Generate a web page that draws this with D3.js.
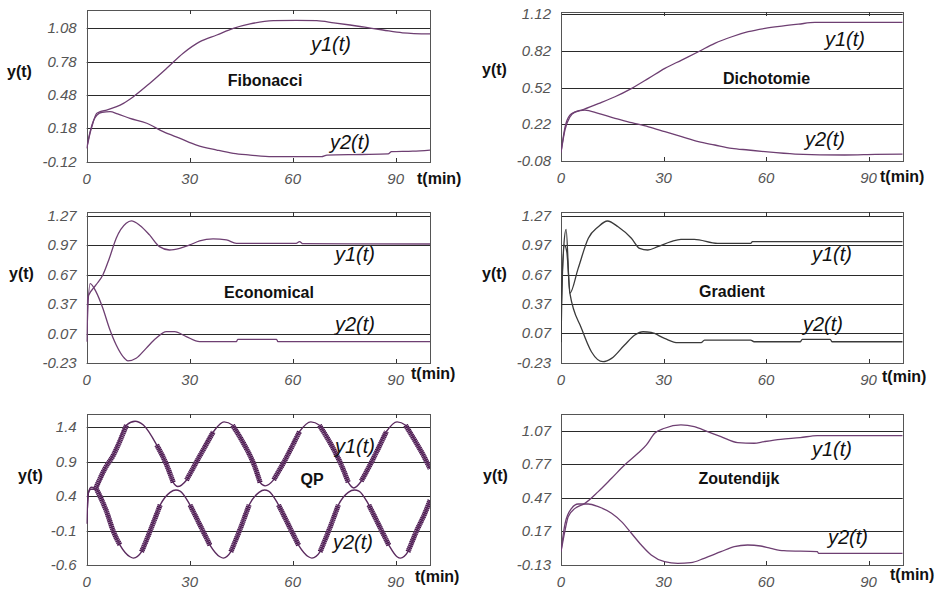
<!DOCTYPE html>
<html>
<head>
<meta charset="utf-8">
<script src="https://cdn.jsdelivr.net/npm/d3@7"></script>
<style>
  html, body { margin: 0; padding: 0; background: #fff; }
  svg { display: block; }
  text { font-family: "Liberation Sans", Arial, sans-serif; }
</style>
</head>
<body>
<svg id="chart" width="935" height="590"></svg>
<script>
// ---------------- DATA ----------------
const xTicks = [0, 30, 60, 90];
const xTickLabels = ["0", "30", "60", "90"];

const titles = ["Fibonacci", "Dichotomie", "Economical", "Gradient", "QP", "Zoutendijk"];

const fibTicks = [-0.12, 0.18, 0.48, 0.78, 1.08];
const fibTickLabels = ["-0.12", "0.18", "0.48", "0.78", "1.08"];
const dicTicks = [-0.08, 0.22, 0.52, 0.82, 1.12];
const dicTickLabels = ["-0.08", "0.22", "0.52", "0.82", "1.12"];
const ecoTicks = [-0.23, 0.07, 0.37, 0.67, 0.97, 1.27];
const ecoTickLabels = ["-0.23", "0.07", "0.37", "0.67", "0.97", "1.27"];
const graTicks = [-0.23, 0.07, 0.37, 0.67, 0.97, 1.27];
const graTickLabels = ["-0.23", "0.07", "0.37", "0.67", "0.97", "1.27"];
const qpTicks = [-0.6, -0.1, 0.4, 0.9, 1.4];
const qpTickLabels = ["-0.6", "-0.1", "0.4", "0.9", "1.4"];
const zouTicks = [-0.13, 0.17, 0.47, 0.77, 1.07];
const zouTickLabels = ["-0.13", "0.17", "0.47", "0.77", "1.07"];

// Fibonacci
const fibT1 = [0, 0.5, 1, 1.5, 2.9, 3.9, 5.8, 8.7, 10.7, 13.6, 18.4, 23.3, 28.1, 33, 37.9, 42.7, 47.6, 54.4, 61, 67, 72, 76.7, 81, 86.3, 92, 100];
const fibY1 = [0.0, 0.07, 0.14, 0.195, 0.315, 0.33, 0.345, 0.375, 0.405, 0.465, 0.586, 0.72, 0.856, 0.96, 1.02, 1.08, 1.12, 1.149, 1.152, 1.149, 1.13, 1.11, 1.09, 1.065, 1.04, 1.03];
const fibT2 = [0, 0.5, 1, 2, 3, 4.5, 6.8, 9, 12.6, 17.5, 22.3, 27.2, 32, 37.9, 42.7, 47.6, 54, 68.4, 70, 80, 87.8, 88.8, 95, 100];
const fibY2 = [0.0, 0.08, 0.15, 0.25, 0.30, 0.325, 0.33, 0.31, 0.27, 0.226, 0.15, 0.09, 0.03, -0.015, -0.045, -0.06, -0.075, -0.075, -0.06, -0.055, -0.05, -0.03, -0.025, -0.015];

// Dichotomie
const dicT1 = [0, 1.2, 2.6, 4, 6, 10.9, 15.8, 20.7, 25.6, 30.4, 35.3, 40.2, 45, 50, 54.8, 59.7, 64.6, 69.5, 74.3, 100];
const dicY1 = [-0.01, 0.2, 0.296, 0.32, 0.337, 0.39, 0.446, 0.515, 0.596, 0.678, 0.746, 0.814, 0.883, 0.937, 0.978, 1.005, 1.024, 1.04, 1.054, 1.054];
const dicT2 = [0, 1.2, 2.6, 4.1, 7, 10.9, 15.8, 20.7, 25.6, 30.4, 35.3, 40.2, 45, 50, 54.8, 59.7, 68.5, 83, 92, 100];
const dicY2 = [-0.01, 0.18, 0.28, 0.32, 0.337, 0.31, 0.269, 0.234, 0.2, 0.16, 0.119, 0.078, 0.051, 0.024, 0.01, -0.004, -0.023, -0.031, -0.026, -0.023];

// Economical
const ecoT1 = [0, 0.3, 0.6, 2.7, 4.7, 6.6, 8.6, 11.5, 13, 15.5, 18.3, 21.2, 24.1, 27.1, 30, 32.9, 36.8, 40.7, 43.6, 61, 62, 63, 100];
const ecoY1 = [-0.01, 0.44, 0.464, 0.566, 0.667, 0.837, 1.04, 1.192, 1.216, 1.17, 1.074, 0.955, 0.921, 0.938, 0.972, 1.013, 1.033, 1.023, 0.989, 0.989, 1.006, 0.985, 0.982];
const ecoT2 = [0, 0.2, 1.0, 2.7, 4.7, 6.6, 8.6, 11, 12, 14.4, 17.3, 20.2, 23.2, 25.6, 29, 32.9, 43.6, 44, 55.3, 55.7, 100];
const ecoY2 = [-0.01, 0.2, 0.58, 0.498, 0.329, 0.126, -0.044, -0.179, -0.206, -0.179, -0.078, 0.024, 0.092, 0.092, 0.041, -0.01, -0.01, 0.014, 0.014, -0.01, -0.01];

// Gradient
const graT1 = [0, 0.1, 0.8, 1.5, 2.6, 5, 8, 10.9, 13.6, 16.7, 20.6, 23, 25.4, 28.3, 32.2, 35.1, 39, 45.8, 55.5, 56, 100];
const graY1 = [-0.02, 0.36, 0.95, 1.13, 0.48, 0.73, 1.04, 1.157, 1.216, 1.157, 1.04, 0.937, 0.92, 0.954, 1.005, 1.029, 1.029, 0.988, 0.988, 1.005, 1.005];
const graT2 = [0, 0.2, 1.0, 1.7, 2.6, 6, 8.9, 12.3, 14.8, 18.6, 21.6, 24, 26.4, 30.3, 34.2, 41, 42, 55.5, 56.5, 70, 70.6, 78.8, 79.3, 100];
const graY2 = [-0.02, 0.36, 0.97, 0.9, 0.48, 0.12, -0.118, -0.22, -0.186, -0.05, 0.052, 0.086, 0.079, 0.018, -0.026, -0.026, 0.001, 0.001, -0.016, -0.016, 0.008, 0.008, -0.016, -0.016];

// QP
const qpT1 = [0, 0.5, 1.2, 2.5, 5.3, 7.8, 11.6, 14.1, 16.5, 20.4, 23.3, 25.2, 26.5, 29.1, 32, 36.9, 40, 42.5, 46, 48.8, 50.5, 52, 54.5, 57.5, 62, 65.3, 67.8, 71.3, 74.2, 76.2, 77.8, 80, 83, 87.3, 90.4, 92.9, 96.4, 98, 100];
const qpY1 = [0.0, 0.45, 0.5, 0.5, 0.8, 1.0, 1.435, 1.49, 1.435, 1.144, 0.853, 0.6, 0.54, 0.635, 0.9, 1.337, 1.48, 1.43, 1.14, 0.85, 0.6, 0.55, 0.64, 0.9, 1.34, 1.48, 1.43, 1.14, 0.85, 0.6, 0.52, 0.62, 0.9, 1.34, 1.48, 1.43, 1.14, 1.0, 0.8];
const qpT2 = [0, 0.5, 1.3, 2.9, 5.8, 7.8, 9.7, 12.6, 13.6, 16, 18.4, 21.4, 24.3, 26, 27.2, 30.1, 33, 35.9, 38.8, 39.8, 42, 44.4, 47.3, 50.2, 51.8, 53, 55.9, 58.8, 61.7, 64.6, 65.6, 68, 70.4, 73.3, 76.2, 78, 79.3, 82.2, 85.1, 88, 90.4, 91.4, 93.6, 96, 98.5, 100];
const qpY2 = [0.0, 0.45, 0.53, 0.5, 0.175, -0.116, -0.31, -0.48, -0.5, -0.407, -0.116, 0.272, 0.456, 0.49, 0.475, 0.272, -0.019, -0.31, -0.48, -0.5, -0.407, -0.116, 0.272, 0.456, 0.49, 0.475, 0.272, -0.019, -0.31, -0.48, -0.5, -0.407, -0.116, 0.272, 0.456, 0.49, 0.475, 0.272, -0.019, -0.31, -0.48, -0.5, -0.407, -0.116, 0.15, 0.34];

// Zoutendijk
const zouT1 = [0, 1.2, 2.1, 4.1, 7, 10.9, 14.8, 18.6, 22.5, 25, 27.4, 30.3, 35.1, 39, 42.9, 46.8, 51.7, 56.5, 59.4, 64.3, 70, 75, 100];
const zouY1 = [-0.01, 0.183, 0.303, 0.377, 0.422, 0.527, 0.646, 0.765, 0.87, 0.945, 1.049, 1.094, 1.124, 1.109, 1.064, 1.019, 0.965, 0.96, 0.974, 0.995, 1.01, 1.028, 1.028];
const zouT2 = [0, 1.2, 3.1, 5, 8, 10.9, 14.8, 17.7, 20.6, 23.5, 26.4, 30.3, 34.2, 38, 41.9, 46.8, 50.7, 54.6, 58.4, 61.4, 65.2, 75, 75.4, 100];
const zouY2 = [-0.01, 0.243, 0.377, 0.416, 0.416, 0.392, 0.333, 0.258, 0.154, 0.049, -0.04, -0.1, -0.115, -0.109, -0.07, -0.011, 0.034, 0.049, 0.04, 0.019, -0.002, -0.011, -0.026, -0.026];

// ---------------- LAYOUT ----------------
const panels = [
  { title: titles[0], ticks: fibTicks, tickLabels: fibTickLabels, dom: [-0.12, 1.245],
    box: { l: 86.7, r: 430, t: 10, b: 161.7 },
    s1: [fibT1, fibY1], s2: [fibT2, fibY2], color: "#6e3f72",
    yl: [7, 77], ttl: [265, 86], l1: [311, 51], l2: [330, 149], tm: [417, 184] },
  { title: titles[1], ticks: dicTicks, tickLabels: dicTickLabels, dom: [-0.08, 1.142],
    box: { l: 561, r: 902.7, t: 11.7, b: 161 },
    s1: [dicT1, dicY1], s2: [dicT2, dicY2], color: "#6e3f72",
    yl: [482, 75], ttl: [766.5, 84], l1: [825, 46], l2: [805, 146], tm: [880, 182] },
  { title: titles[2], ticks: ecoTicks, tickLabels: ecoTickLabels, dom: [-0.23, 1.31],
    box: { l: 86.7, r: 430, t: 211.7, b: 363.3 },
    s1: [ecoT1, ecoY1], s2: [ecoT2, ecoY2], color: "#6e3f72",
    yl: [9, 279], ttl: [269, 298], l1: [335, 261], l2: [335, 331], tm: [411, 379] },
  { title: titles[3], ticks: graTicks, tickLabels: graTickLabels, dom: [-0.23, 1.311],
    box: { l: 561, r: 902.7, t: 211.7, b: 362.7 },
    s1: [graT1, graY1], s2: [graT2, graY2], color: "#3a3a3a",
    yl: [482, 279], ttl: [732, 297], l1: [812, 261], l2: [803, 331], tm: [882, 382] },
  { title: titles[4], ticks: qpTicks, tickLabels: qpTickLabels, dom: [-0.6, 1.59],
    box: { l: 86.7, r: 430, t: 414.3, b: 565 },
    s1: [qpT1, qpY1], s2: [qpT2, qpY2], color: "#5a2a5e", ripple: true,
    yl: [18, 481], ttl: [312, 485], l1: [335, 453], l2: [333, 549], tm: [415, 582] },
  { title: titles[5], ticks: zouTicks, tickLabels: zouTickLabels, dom: [-0.13, 1.219],
    box: { l: 561, r: 902.7, t: 414.3, b: 565 },
    s1: [zouT1, zouY1], s2: [zouT2, zouY2], color: "#6e3f72",
    yl: [483, 481], ttl: [739, 484], l1: [812, 456], l2: [828, 544], tm: [890, 580] }
];

const svg = d3.select("#chart");

panels.forEach((p, pi) => {
  const g = svg.append("g");
  const x = d3.scaleLinear().domain([0, 100]).range([p.box.l, p.box.r]);
  const y = d3.scaleLinear().domain(p.dom).range([p.box.b, p.box.t]);

  // grid lines
  g.selectAll("line.grid").data(p.ticks).enter().append("line")
    .attr("x1", p.box.l).attr("x2", p.box.r)
    .attr("y1", d => Math.round(y(d)) + 0.5).attr("y2", d => Math.round(y(d)) + 0.5)
    .attr("stroke", "#2a2a2a").attr("stroke-width", 1);

  // frame
  g.append("rect")
    .attr("x", Math.round(p.box.l) + 0.5).attr("y", Math.round(p.box.t) + 0.5)
    .attr("width", Math.round(p.box.r) - Math.round(p.box.l))
    .attr("height", Math.round(p.box.b) - Math.round(p.box.t))
    .attr("fill", "none").attr("stroke", "#555").attr("stroke-width", 1);

  // inner ticks top/bottom
  const xt = xTicks.filter(d => d > 0);
  g.selectAll("line.xtb").data(xt).enter().append("line")
    .attr("x1", d => Math.round(x(d)) + 0.5).attr("x2", d => Math.round(x(d)) + 0.5)
    .attr("y1", Math.round(p.box.b)).attr("y2", Math.round(p.box.b) - 4)
    .attr("stroke", "#333");
  g.selectAll("line.xtt").data(xt).enter().append("line")
    .attr("x1", d => Math.round(x(d)) + 0.5).attr("x2", d => Math.round(x(d)) + 0.5)
    .attr("y1", Math.round(p.box.t)).attr("y2", Math.round(p.box.t) + 4)
    .attr("stroke", "#333");

  // y tick labels
  g.selectAll("text.yt").data(p.ticks).enter().append("text")
    .attr("x", p.box.l - 10).attr("y", d => y(d) + 5)
    .attr("text-anchor", "end")
    .attr("font-size", 15).attr("font-style", "italic").attr("fill", "#555")
    .text((d, i) => p.tickLabels[i]);

  // x tick labels
  g.selectAll("text.xt").data(xTicks).enter().append("text")
    .attr("x", d => x(d)).attr("y", p.box.b + 22)
    .attr("text-anchor", "middle")
    .attr("font-size", 15).attr("font-style", "italic").attr("fill", "#555")
    .text((d, i) => xTickLabels[i]);

  // axis titles
  g.append("text").attr("x", p.yl[0]).attr("y", p.yl[1])
    .attr("font-size", 16).attr("font-weight", "bold").attr("fill", "#111").text("y(t)");
  g.append("text").attr("x", p.tm[0]).attr("y", p.tm[1])
    .attr("font-size", 16).attr("font-weight", "bold").attr("fill", "#111").text("t(min)");

  // clip
  const clipId = "clip" + pi;
  svg.append("clipPath").attr("id", clipId).append("rect")
    .attr("x", p.box.l).attr("y", p.box.t - 2)
    .attr("width", p.box.r - p.box.l).attr("height", p.box.b - p.box.t + 4);

  const line = d3.line().x(d => x(d[0])).y(d => y(d[1])).curve(d3.curveMonotoneX);
  const plot = g.append("g").attr("clip-path", `url(#${clipId})`);

  [p.s1, p.s2].forEach(s => {
    const pts = s[0].map((t, i) => [t, s[1][i]]);
    if (p.ripple) {
      // heavier, hatched band on steep stretches (styling only)
      const steep = pts.map((d, i) => {
        const a = i > 0 ? Math.abs((d[1] - pts[i - 1][1]) / (d[0] - pts[i - 1][0])) : 0;
        const b = i < pts.length - 1 ? Math.abs((pts[i + 1][1] - d[1]) / (pts[i + 1][0] - d[0])) : 0;
        return Math.max(a, b) > 0.075 && d[0] > 2.4;
      });
      const band = d3.line().x(d => x(d[0])).y(d => y(d[1]))
        .defined((d, i) => steep[i]).curve(d3.curveMonotoneX);
      plot.append("path").attr("d", band(pts))
        .attr("fill", "none").attr("stroke", "#8a6090").attr("stroke-width", 5)
        .attr("stroke-opacity", 0.75);
      plot.append("path").attr("d", band(pts))
        .attr("fill", "none").attr("stroke", "#3e0d42").attr("stroke-width", 5)
        .attr("stroke-dasharray", "1,0.9");
    }
    plot.append("path").attr("d", line(pts))
      .attr("fill", "none").attr("stroke", p.color)
      .attr("stroke-width", p.ripple ? 1.4 : 1.3);
  });

  // panel title and series labels
  g.append("text").attr("x", p.ttl[0]).attr("y", p.ttl[1]).attr("text-anchor", "middle")
    .attr("font-size", 16).attr("font-weight", "bold").attr("fill", "#111").text(p.title);
  g.append("text").attr("x", p.l1[0]).attr("y", p.l1[1])
    .attr("font-size", 20).attr("font-style", "italic").attr("fill", "#111").text("y1(t)");
  g.append("text").attr("x", p.l2[0]).attr("y", p.l2[1])
    .attr("font-size", 20).attr("font-style", "italic").attr("fill", "#111").text("y2(t)");
});
</script>
</body>
</html>
